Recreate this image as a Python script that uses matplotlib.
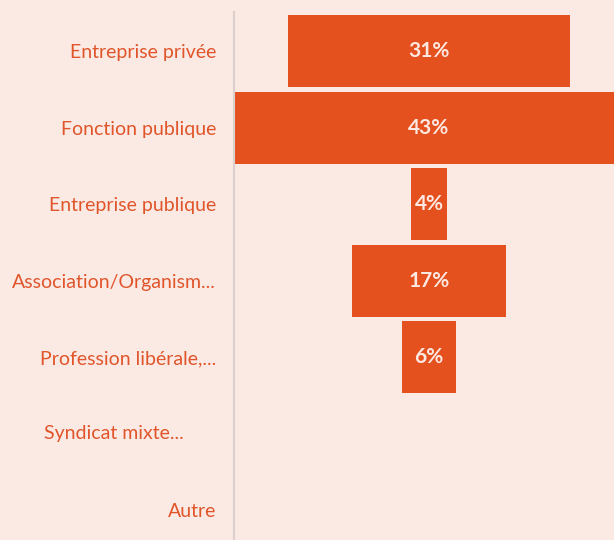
import matplotlib
matplotlib.use('Agg')
import matplotlib.pyplot as plt

categories = ['Entreprise privée', 'Fonction publique', 'Entreprise publique',
              'Association/Organism...', 'Profession libérale,...',
              'Syndicat mixte...', 'Autre']
values = [31, 43, 4, 17, 6, 0, 0]

BG = '#FBE9E4'
BAR = '#E4501E'
TXT = '#E0552A'

fig = plt.figure(figsize=(6.14, 5.40), dpi=100, facecolor=BG)
ax = fig.add_axes([234 / 614, 0, 380 / 614, 1], facecolor=BG)

rows = list(range(len(categories)))
lefts = [-v / 2 for v in values]
ax.barh(rows, values, left=lefts, height=0.94, color=BAR)

for r, v in zip(rows, values):
    if v > 0:
        ax.text(0, r, f'{v}%', ha='center', va='center', color='#FCE8E1',
                fontsize=15, fontweight='bold', family='Lato')

ax.set_xlim(-21.43, 20.33)
ax.set_ylim(6.39, -0.667)
ax.set_xticks([])
ax.set_yticks(rows)
ax.set_yticklabels(categories, color=TXT, fontsize=14, family='Lato')
ax.tick_params(axis='y', length=0, pad=13)

# the truncated "Syndicat mixte..." label sits further left in the original
lab = ax.get_yticklabels()[5]
lab.set_visible(False)
ax.annotate(categories[5], xy=(0, 5), xycoords=('axes fraction', 'data'),
            xytext=(-36, 0), textcoords='offset points', ha='right', va='center',
            color=TXT, fontsize=14, family='Lato')

for s in ['top', 'right', 'bottom']:
    ax.spines[s].set_visible(False)
ax.spines['left'].set_color('#DCD0CC')
ax.spines['left'].set_linewidth(1.5)
ax.spines['left'].set_bounds(6.39, -0.51)

fig.savefig('out.png', dpi=100, facecolor=BG)
